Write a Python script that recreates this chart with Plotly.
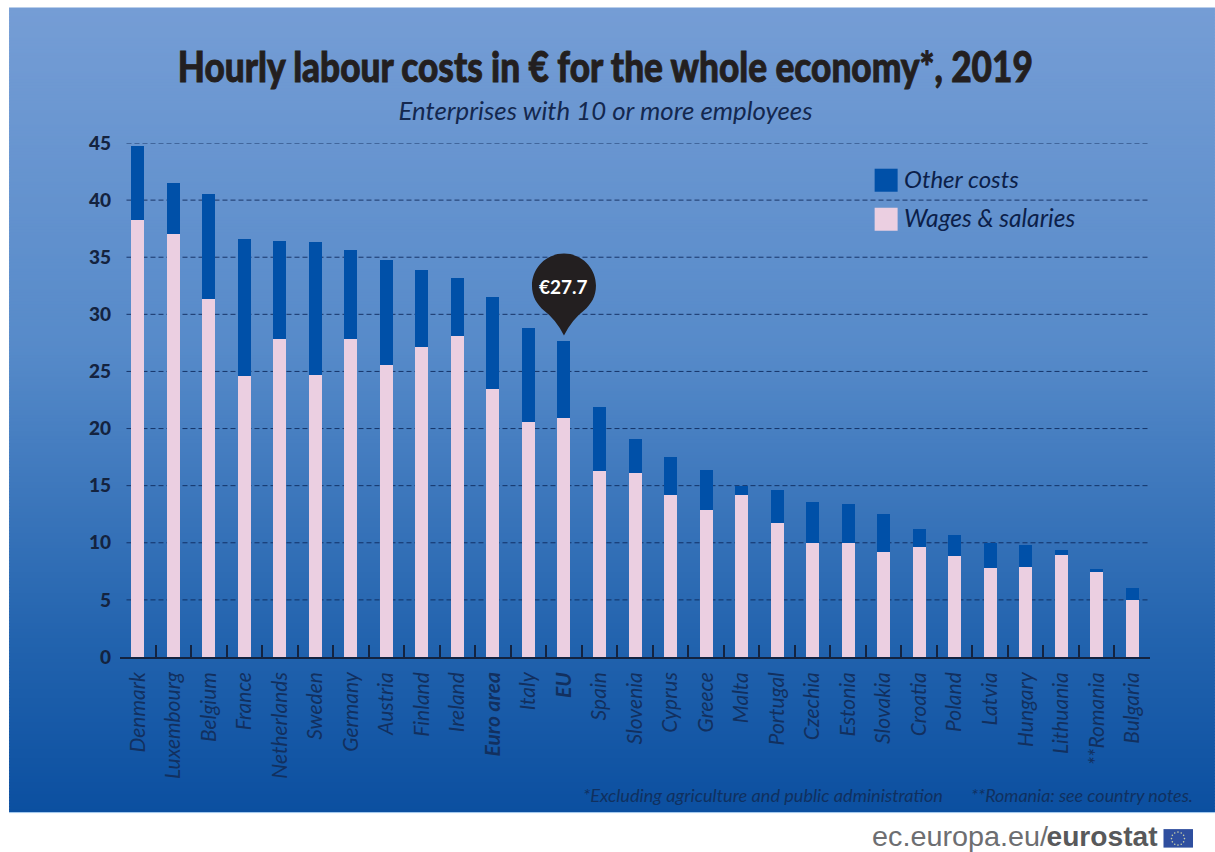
import json
import math
import plotly.graph_objects as go

countries = ["Denmark", "Luxembourg", "Belgium", "France", "Netherlands", "Sweden", "Germany",
             "Austria", "Finland", "Ireland", "<b>Euro area</b>", "Italy", "<b>EU</b>", "Spain",
             "Slovenia", "Cyprus", "Greece", "Malta", "Portugal", "Czechia", "Estonia", "Slovakia",
             "Croatia", "Poland", "Latvia", "Hungary", "Lithuania", "**Romania", "Bulgaria"]
wages = [38.3, 37.0, 31.3, 24.6, 27.8, 24.7, 27.8, 25.6, 27.1, 28.1, 23.5, 20.6, 20.9, 16.3,
         16.1, 14.2, 12.9, 14.2, 11.7, 10.0, 10.0, 9.2, 9.6, 8.8, 7.8, 7.9, 8.9, 7.4, 5.0]
other = [6.4, 4.5, 9.2, 12.0, 8.6, 11.6, 7.8, 9.2, 6.8, 5.1, 8.0, 8.2, 6.8, 5.6,
         3.0, 3.3, 3.5, 0.8, 2.9, 3.6, 3.4, 3.3, 1.6, 1.9, 2.2, 1.9, 0.5, 0.3, 1.0]
y_ticks = [0, 5, 10, 15, 20, 25, 30, 35, 40, 45]

OTHER_COLOR = "#0050A8"
WAGES_COLOR = "#EBCFE1"
INK = "#14233F"
LABEL_INK = "#12305F"

WIDTH, HEIGHT = 1215, 852
PLOT_L, PLOT_R, PLOT_T, PLOT_B = 119.5, 1150, 143.3, 657


def fx(px):
    return (px - PLOT_L) / (PLOT_R - PLOT_L)


def fy(py):
    return (PLOT_B - py) / (PLOT_B - PLOT_T)


def backdrop_color(py):
    stops = [(8, (117, 157, 213)), (350, (86, 138, 201)), (640, (34, 99, 174)), (812, (11, 79, 160))]
    for (a, ca), (b, cb) in zip(stops, stops[1:]):
        if py <= b:
            t = (py - a) / (b - a)
            return "rgb(%d,%d,%d)" % tuple(round(u + (v - u) * t) for u, v in zip(ca, cb))
    return "rgb(11,79,160)"


shapes = []

# Vertical gradient panel built from thin bands
for py in range(8, 812, 3):
    shapes.append(dict(type="rect", xref="paper", yref="paper", layer="below",
                       x0=fx(8.5), x1=fx(1215), y0=fy(py), y1=fy(min(py + 4, 812)),
                       fillcolor=backdrop_color(py), line_width=0))
shapes.append(dict(type="line", xref="paper", yref="paper", layer="below",
                   x0=fx(8.5), x1=fx(1215), y0=fy(812.5), y1=fy(812.5),
                   line=dict(color="#9CC4EC", width=1)))

# Dashed reference lines
for v in y_ticks[1:]:
    shapes.append(dict(type="line", xref="paper", yref="y", layer="below",
                       x0=fx(126), x1=1, y0=v, y1=v,
                       line=dict(color="rgba(12,38,88,0.85)", width=1, dash="5px,3px")))

# Pin marking the EU total
eu_index = countries.index("<b>EU</b>")
eu_total = wages[eu_index] + other[eu_index]
pin_path = ("M -32,55 C -32,72.7 -17.7,87 0,87 C 17.7,87 32,72.7 32,55 "
            "C 32,44 27,36 20,30 Q 8,21 0,5 Q -8,21 -20,30 C -27,36 -32,44 -32,55 Z")
shapes.append(dict(type="path", xref="x", yref="y", xsizemode="pixel", ysizemode="pixel",
                   xanchor=eu_index, yanchor=eu_total, path=pin_path,
                   fillcolor="#231F20", line_width=0, layer="above"))

# Legend swatches
for top, color in [(169, OTHER_COLOR), (208, WAGES_COLOR)]:
    shapes.append(dict(type="rect", xref="paper", yref="paper", x0=fx(874.5), x1=fx(897.5),
                       y0=fy(top), y1=fy(top + 23), fillcolor=color, line_width=0))

# Flag next to the site address
shapes.append(dict(type="rect", xref="paper", yref="paper", x0=fx(1163.5), x1=fx(1193),
                   y0=fy(829), y1=fy(847.5), fillcolor="#2F4F9F", line_width=0))
for k in range(12):
    a = k * math.pi / 6
    cx, cy = 1178 + 6.5 * math.cos(a), 838.5 + 6.5 * math.sin(a)
    shapes.append(dict(type="circle", xref="paper", yref="paper", x0=fx(cx - 0.8), x1=fx(cx + 0.8),
                       y0=fy(cy - 0.8), y1=fy(cy + 0.8), fillcolor="#C9CFA8", line_width=0))


def note(text, px, py, size, color, family="Lato", anchor="left", style="normal", weight="normal"):
    return dict(text=text, xref="paper", yref="paper", x=fx(px), y=fy(py), showarrow=False,
                xanchor=anchor, yanchor="middle", align=anchor,
                font=dict(family=family, size=size, color=color, style=style, weight=weight))


annotations = [
    note("Hourly labour costs in € for the whole economy*, 2019", 605.5, 66, 42, "#231F20",
         anchor="center", weight=900),
    note("Enterprises with 10 or more employees", 605, 110, 25, "#14284F", anchor="center", style="italic"),
    note("Other costs", 902, 179, 24, "#0C1F4A", style="italic"),
    note("Wages &amp; salaries", 902, 218, 24.5, "#0C1F4A", style="italic"),
    note("*Excluding agriculture and public administration", 581, 795, 17.5, "#10305F", style="italic"),
    note("**Romania: see country notes.", 969, 795, 17.5, "#10305F", style="italic"),
    note("ec.europa.eu/", 870, 836.5, 27, "#6D6E71", family="Liberation Sans"),
    note("eurostat", 1160, 836.5, 27, "#58595B", family="Liberation Sans", anchor="right", weight="bold"),
    dict(text="<b>€%.1f</b>" % eu_total, xref="x", yref="y", x=eu_index, y=eu_total, yshift=54,
         showarrow=False, font=dict(family="Lato", size=19, color="white")),
]

fig = go.Figure()
fig.add_bar(name="Wages & salaries", x=countries, y=wages, marker=dict(color=WAGES_COLOR, line_width=0))
fig.add_bar(name="Other costs", x=countries, y=other, marker=dict(color=OTHER_COLOR, line_width=0))

fig.update_layout(
    width=WIDTH, height=HEIGHT, barmode="stack", bargap=0.634, showlegend=False,
    paper_bgcolor="white", plot_bgcolor="rgba(0,0,0,0)",
    margin=dict(l=PLOT_L, r=WIDTH - PLOT_R, t=PLOT_T, b=HEIGHT - PLOT_B, pad=0),
    shapes=shapes, annotations=annotations,
    xaxis=dict(type="category", tickson="boundaries", ticks="inside", ticklen=12, tickwidth=1.5,
               tickcolor=INK, showline=True, linecolor=INK, linewidth=1.5, showgrid=False,
               tickangle=-90, ticklabelstandoff=5, layer="below traces",
               tickfont=dict(family="Lato", size=21, color=LABEL_INK, style="italic")),
    yaxis=dict(range=[0, 45], tickvals=y_ticks, showgrid=False, zeroline=False, showline=False,
               ticks="", ticklabelstandoff=8,
               tickfont=dict(family="Lato", size=19, color=INK, weight=900)),
)

# Fit the long text runs to their set widths, condensing the glyphs,
# and give the headline a heavier stroke
text_widths = {
    "Hourly labour": 855,
    "Enterprises": 414,
    "*Excluding": 360,
    "**Romania:": 222,
    "ec.europa.eu/": 176,
    "eurostat": 111,
}
fit_script = """
var widths = %s;
document.querySelectorAll('.annotation-text').forEach(function (node) {
  Object.keys(widths).forEach(function (start) {
    if (node.textContent.indexOf(start) === 0) {
      node.setAttribute('textLength', widths[start]);
      node.setAttribute('lengthAdjust', 'spacingAndGlyphs');
    }
  });
  if (node.textContent.indexOf('Hourly labour') === 0) {
    node.style.stroke = '#231F20';
    node.style.strokeWidth = '0.9px';
  }
});
""" % json.dumps(text_widths)

fig.write_html("out.html", config=dict(displayModeBar=False), post_script=fit_script)
